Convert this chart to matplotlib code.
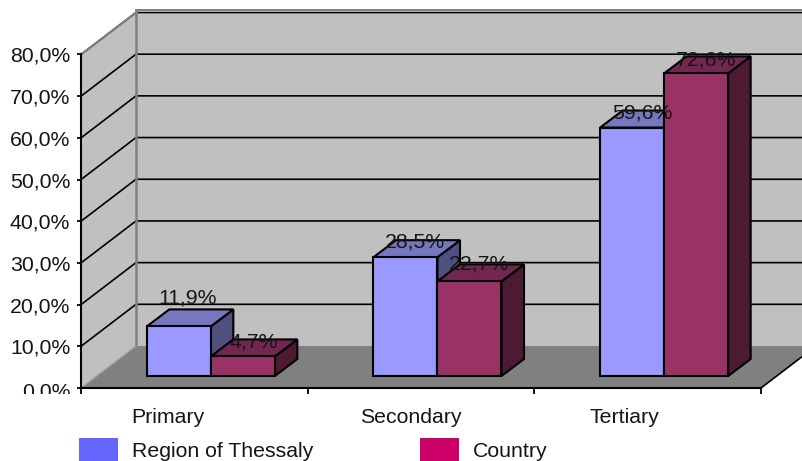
import matplotlib
matplotlib.use('Agg')
import matplotlib.pyplot as plt
from matplotlib.patches import Polygon, Rectangle
from matplotlib.transforms import Affine2D, Bbox

plt.rcParams['font.family'] = ['Liberation Sans', 'DejaVu Sans']

categories = ['Primary', 'Secondary', 'Tertiary']
series_names = ['Region of Thessaly', 'Country']
thessaly = [11.9, 28.5, 59.6]
country = [4.7, 22.7, 72.6]
y_ticks = [0, 10, 20, 30, 40, 50, 60, 70, 80]

W, H = 803, 461
x0, x1 = 81, 761      # front edge of the floor, px
y0, y80 = 388, 54.5   # 0% and 80% on the front axis, px
ux = (x1 - x0) / 3.0  # px per category
uy = (y0 - y80) / 80.0  # px per percent

# 3d depth of the box and of the bars
dx, dy = 55 / ux, 42 / uy
bx, by = 22.5 / ux, 17 / uy
lift = 12 / uy
bar_w = 64 / ux
bar_shift = 16.5 / ux

FS = 15.3
INK = '#151515'
LW = 1.5
GREY = '#808080'
WALL = '#c0c0c0'

fig = plt.figure(figsize=(W / 100, H / 100), dpi=100)
ax = fig.add_axes([x0 / W, 1 - y0 / H, (x1 - x0) / W, (y0 - y80) / H])
ax.set_xlim(0, 3)
ax.set_ylim(0, 80)
ax.patch.set_visible(False)
for s in ['top', 'right']:
    ax.spines[s].set_visible(False)
for s in ['left', 'bottom']:
    ax.spines[s].set_linewidth(1.5)
    ax.spines[s].set_zorder(6)

# walls and floor
xr = 3 + dx
ax.add_patch(Polygon([(0, 0), (dx, dy), (dx, 80 + dy), (0, 80)], fc=WALL, ec='none', clip_on=False, zorder=1))
ax.add_patch(Polygon([(dx, dy), (xr, dy), (xr, 80 + dy), (dx, 80 + dy)], fc=WALL, ec='none', clip_on=False, zorder=1))
ax.add_patch(Polygon([(0, 0), (3, 0), (xr, dy), (dx, dy)], fc=GREY, ec='none', clip_on=False, zorder=1))

# gridlines on the side and back walls
for t in y_ticks[1:]:
    ax.plot([0, dx, xr], [t, t + dy, t + dy], color='black', lw=1.2, clip_on=False, zorder=2)
ax.plot([0, dx], [80, 80 + dy], color=GREY, lw=1.5, clip_on=False, zorder=2.5)
ax.plot([dx, dx], [dy, 80 + dy], color=GREY, lw=1.8, clip_on=False, zorder=2.5)
ax.plot([dx, xr], [80 + dy + 0.5, 80 + dy + 0.5], color=GREY, lw=1.4, clip_on=False, zorder=2.5)
ax.plot([0, dx], [0, dy], color='#a0a0a0', lw=1, clip_on=False, zorder=2.5)
ax.plot([3, xr], [0, dy], color='black', lw=1.2, clip_on=False, zorder=2.5)


def draw_bar(left, value, front, top, side):
    xa, xb = left, left + bar_w
    ya, yb = lift, lift + value
    ax.add_patch(Polygon([(xb, ya), (xb + bx, ya + by), (xb + bx, yb + by), (xb, yb)],
                         fc=side, ec='black', lw=LW, clip_on=False, zorder=3, joinstyle='miter'))
    ax.add_patch(Polygon([(xa, yb), (xb, yb), (xb + bx, yb + by), (xa + bx, yb + by)],
                         fc=top, ec='black', lw=LW, clip_on=False, zorder=3, joinstyle='miter'))
    ax.add_patch(Rectangle((xa, ya), bar_w, value, fc=front, ec='black', lw=LW,
                           clip_on=False, zorder=3, joinstyle='miter'))


for i in range(3):
    left = i + 0.5 + bar_shift - bar_w
    draw_bar(left, thessaly[i], '#9999ff', '#7777c0', '#505080')
    draw_bar(left + bar_w, country[i], '#993366', '#732650', '#4d1a33')

# data labels, offsets in px from the front-top centre of each bar
label_off_a = [(9, 28), (10, 15), (10, 15)]
label_off_b = [(11, 14), (10, 17), (10, 13)]
for i in range(3):
    left = i + 0.5 + bar_shift - bar_w
    for j, (vals, off) in enumerate([(thessaly, label_off_a), (country, label_off_b)]):
        v = vals[i]
        cx = left + bar_w * (j + 0.5) + off[i][0] / ux
        cy = lift + v + off[i][1] / uy
        ax.text(cx, cy, f'{v:.1f}%'.replace('.', ','), ha='center', va='center',
                fontsize=FS, color=INK, clip_on=False, zorder=5)

# axes
ax.set_yticks(y_ticks)
ax.set_yticklabels([f'{t:.1f}%'.replace('.', ',') for t in y_ticks], fontsize=FS, color=INK)
ax.set_xticks([0, 1, 2, 3])
ax.set_xticklabels([])
ax.tick_params(axis='y', length=3, width=1.3, pad=4.8)
ax.tick_params(axis='x', length=4, width=1.3)
ax.spines['bottom'].set_bounds(0, 3)

# the bottom tick label hangs a little lower and is cut off under the axis
zero_label = ax.get_yticklabels()[0]
zero_label.set_transform(zero_label.get_transform() + Affine2D().translate(0, -1.5))
zero_label.set_clip_box(Bbox([[0, H - 394], [W, H]]))
zero_label.set_clip_on(True)

# category labels sit left of the category centre
cat_px = [168, 411, 624.5]
for name, px in zip(categories, cat_px):
    ax.text((px - x0) / ux, (y0 - 417) / uy, name, ha='center', va='center',
            fontsize=FS, color=INK, clip_on=False)

# legend along the bottom edge
swatch_px = [79, 420]
label_px = [132, 473]
swatch_col = ['#6666ff', '#cc0066']
for name, sx, lx, c in zip(series_names, swatch_px, label_px, swatch_col):
    fig.patches.append(Rectangle((sx / W, 0), 39 / W, 23 / H, transform=fig.transFigure, fc=c, ec='none'))
    fig.text(lx / W, 1 - 451 / H, name, ha='left', va='center', fontsize=FS, color=INK)

fig.savefig('out.png', dpi=100)
